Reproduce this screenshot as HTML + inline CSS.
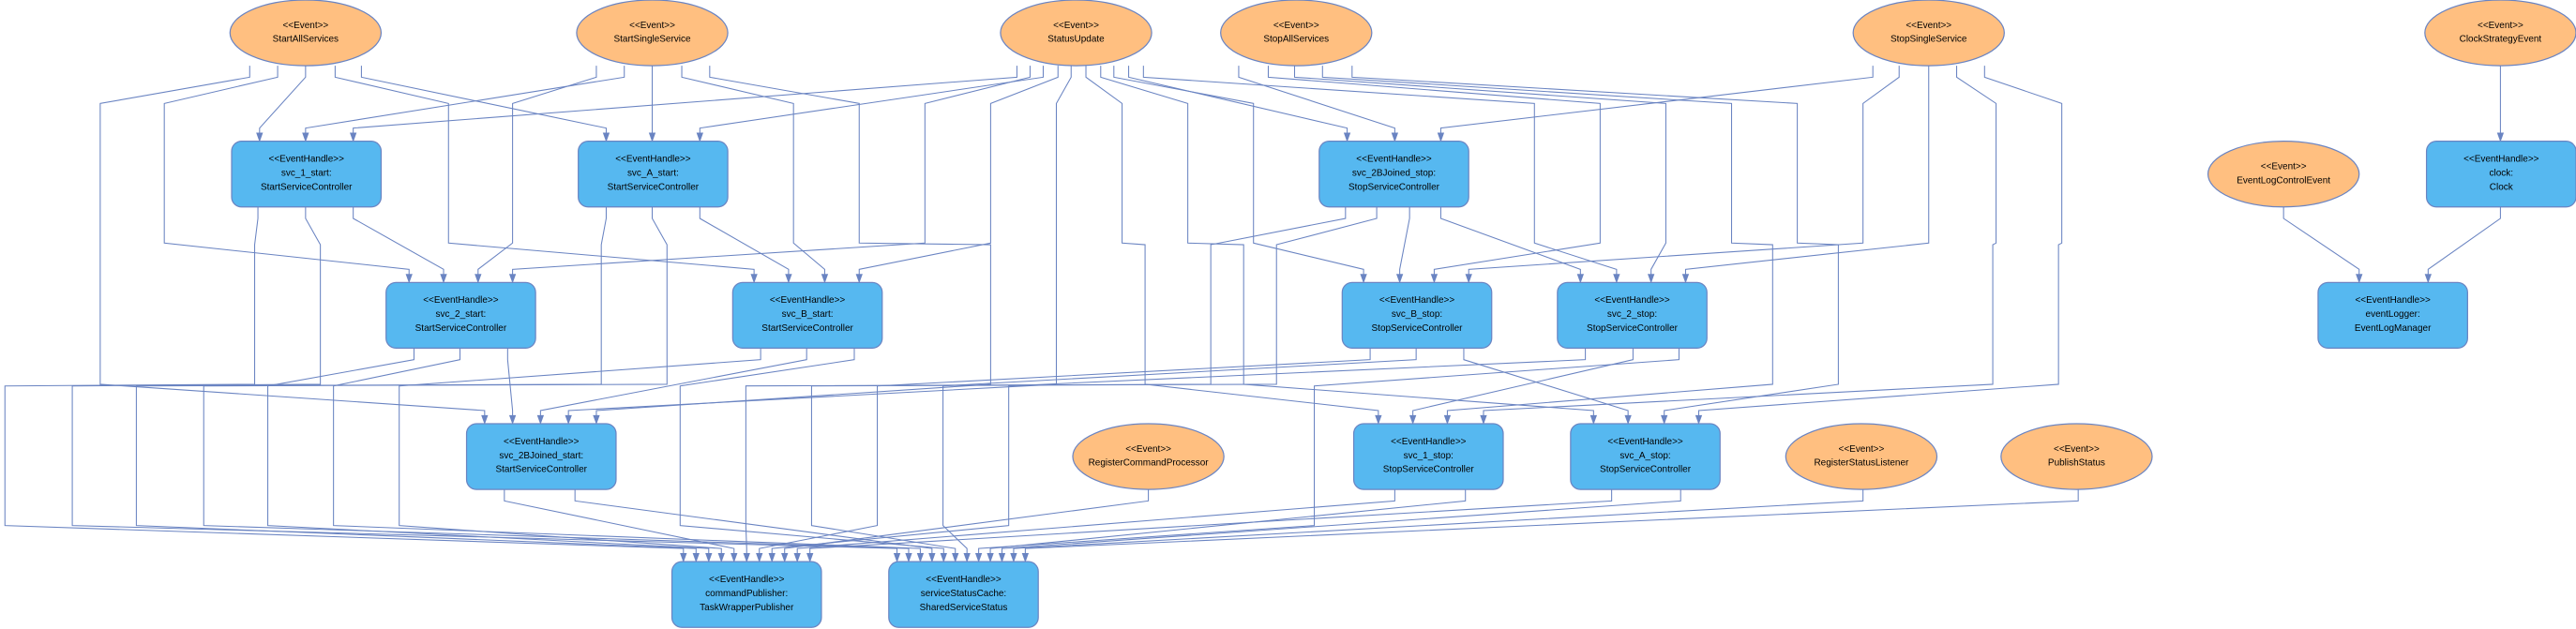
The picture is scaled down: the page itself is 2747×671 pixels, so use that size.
<!DOCTYPE html>
<html><head><meta charset="utf-8"><style>
html,body{margin:0;padding:0;background:#fff;}
svg{display:block;}
text{font-family:"Liberation Sans",Arial,sans-serif;font-size:5.7px;fill:#000;text-anchor:middle;}
</style></head><body>
<svg id="s" width="2747" height="671" viewBox="0 0 1568 383" preserveAspectRatio="none" xmlns="http://www.w3.org/2000/svg">
<g id="edges" fill="none" stroke="#6a84c2" stroke-width="0.6"></g>
<g id="arrows" fill="#6a84c2" stroke="#6a84c2" stroke-width="0.4"></g>
<g stroke="#6a84c2" stroke-width="0.7">
<ellipse cx="186" cy="20" rx="46" ry="20" fill="#ffbf80"/>
<ellipse cx="397" cy="20" rx="46" ry="20" fill="#ffbf80"/>
<ellipse cx="655" cy="20" rx="46" ry="20" fill="#ffbf80"/>
<ellipse cx="789" cy="20" rx="46" ry="20" fill="#ffbf80"/>
<ellipse cx="1174" cy="20" rx="46" ry="20" fill="#ffbf80"/>
<ellipse cx="1522" cy="20" rx="46" ry="20" fill="#ffbf80"/>
<ellipse cx="1390" cy="106" rx="46" ry="20" fill="#ffbf80"/>
<ellipse cx="699" cy="278" rx="46" ry="20" fill="#ffbf80"/>
<ellipse cx="1133" cy="278" rx="46" ry="20" fill="#ffbf80"/>
<ellipse cx="1264" cy="278" rx="46" ry="20" fill="#ffbf80"/>
<rect x="141" y="86" width="91" height="40" rx="6" fill="#56b8f0"/>
<rect x="352" y="86" width="91" height="40" rx="6" fill="#56b8f0"/>
<rect x="803" y="86" width="91" height="40" rx="6" fill="#56b8f0"/>
<rect x="1477" y="86" width="91" height="40" rx="6" fill="#56b8f0"/>
<rect x="235" y="172" width="91" height="40" rx="6" fill="#56b8f0"/>
<rect x="446" y="172" width="91" height="40" rx="6" fill="#56b8f0"/>
<rect x="817" y="172" width="91" height="40" rx="6" fill="#56b8f0"/>
<rect x="948" y="172" width="91" height="40" rx="6" fill="#56b8f0"/>
<rect x="1411" y="172" width="91" height="40" rx="6" fill="#56b8f0"/>
<rect x="284" y="258" width="91" height="40" rx="6" fill="#56b8f0"/>
<rect x="824" y="258" width="91" height="40" rx="6" fill="#56b8f0"/>
<rect x="956" y="258" width="91" height="40" rx="6" fill="#56b8f0"/>
<rect x="409" y="342" width="91" height="40" rx="6" fill="#56b8f0"/>
<rect x="541" y="342" width="91" height="40" rx="6" fill="#56b8f0"/>
</g>
<g>
<text x="186" y="17">&lt;&lt;Event&gt;&gt;</text><text x="186" y="25.5">StartAllServices</text>
<text x="397" y="17">&lt;&lt;Event&gt;&gt;</text><text x="397" y="25.5">StartSingleService</text>
<text x="655" y="17">&lt;&lt;Event&gt;&gt;</text><text x="655" y="25.5">StatusUpdate</text>
<text x="789" y="17">&lt;&lt;Event&gt;&gt;</text><text x="789" y="25.5">StopAllServices</text>
<text x="1174" y="17">&lt;&lt;Event&gt;&gt;</text><text x="1174" y="25.5">StopSingleService</text>
<text x="1522" y="17">&lt;&lt;Event&gt;&gt;</text><text x="1522" y="25.5">ClockStrategyEvent</text>
<text x="1390" y="103">&lt;&lt;Event&gt;&gt;</text><text x="1390" y="111.5">EventLogControlEvent</text>
<text x="699" y="275">&lt;&lt;Event&gt;&gt;</text><text x="699" y="283.5">RegisterCommandProcessor</text>
<text x="1133" y="275">&lt;&lt;Event&gt;&gt;</text><text x="1133" y="283.5">RegisterStatusListener</text>
<text x="1264" y="275">&lt;&lt;Event&gt;&gt;</text><text x="1264" y="283.5">PublishStatus</text>

<text x="186.5" y="98.5">&lt;&lt;EventHandle&gt;&gt;</text><text x="186.5" y="107">svc_1_start:</text><text x="186.5" y="115.5">StartServiceController</text>
<text x="397.5" y="98.5">&lt;&lt;EventHandle&gt;&gt;</text><text x="397.5" y="107">svc_A_start:</text><text x="397.5" y="115.5">StartServiceController</text>
<text x="848.5" y="98.5">&lt;&lt;EventHandle&gt;&gt;</text><text x="848.5" y="107">svc_2BJoined_stop:</text><text x="848.5" y="115.5">StopServiceController</text>
<text x="1522.5" y="98.5">&lt;&lt;EventHandle&gt;&gt;</text><text x="1522.5" y="107">clock:</text><text x="1522.5" y="115.5">Clock</text>
<text x="280.5" y="184.5">&lt;&lt;EventHandle&gt;&gt;</text><text x="280.5" y="193">svc_2_start:</text><text x="280.5" y="201.5">StartServiceController</text>
<text x="491.5" y="184.5">&lt;&lt;EventHandle&gt;&gt;</text><text x="491.5" y="193">svc_B_start:</text><text x="491.5" y="201.5">StartServiceController</text>
<text x="862.5" y="184.5">&lt;&lt;EventHandle&gt;&gt;</text><text x="862.5" y="193">svc_B_stop:</text><text x="862.5" y="201.5">StopServiceController</text>
<text x="993.5" y="184.5">&lt;&lt;EventHandle&gt;&gt;</text><text x="993.5" y="193">svc_2_stop:</text><text x="993.5" y="201.5">StopServiceController</text>
<text x="1456.5" y="184.5">&lt;&lt;EventHandle&gt;&gt;</text><text x="1456.5" y="193">eventLogger:</text><text x="1456.5" y="201.5">EventLogManager</text>
<text x="329.5" y="270.5">&lt;&lt;EventHandle&gt;&gt;</text><text x="329.5" y="279">svc_2BJoined_start:</text><text x="329.5" y="287.5">StartServiceController</text>
<text x="869.5" y="270.5">&lt;&lt;EventHandle&gt;&gt;</text><text x="869.5" y="279">svc_1_stop:</text><text x="869.5" y="287.5">StopServiceController</text>
<text x="1001.5" y="270.5">&lt;&lt;EventHandle&gt;&gt;</text><text x="1001.5" y="279">svc_A_stop:</text><text x="1001.5" y="287.5">StopServiceController</text>
<text x="454.5" y="354.5">&lt;&lt;EventHandle&gt;&gt;</text><text x="454.5" y="363">commandPublisher:</text><text x="454.5" y="371.5">TaskWrapperPublisher</text>
<text x="586.5" y="354.5">&lt;&lt;EventHandle&gt;&gt;</text><text x="586.5" y="363">serviceStatusCache:</text><text x="586.5" y="371.5">SharedServiceStatus</text>
</g>
</svg>
<script>
(function(){
var T=[0,86,172,258,342],B=[40,126,212,298,382];
var C=function(i){return 416+i*7.7;}, S=function(i){return 546+i*7.1;};
var E=[
[186,0,[],158,1],[380,0,[],186,1],[619,0,[],215,1],
[220,0,[],369,1],[397,0,[],397,1],[635,0,[],426,1],
[687,0,[],820,1],[754,0,[],849,1],[1140,0,[],877,1],
[1522,0,[],1522,1],
[215,1,[],270,2],[426,1,[],480,2],[858,1,[],852,2],[877,1,[],962,2],
[1390,1,[],1436,2],[1522,1,[],1478,2],
[169,0,[100],249,2],[204,0,[273],459,2],[363,0,[312],291,2],[415,0,[483],502,2],
[627,0,[563],312,2],[644,0,[603],523,2],[678,0,[763],830,2],[696,0,[934],984,2],
[652,0,[643,643],346,3],[432,0,[523,603],363,3],[152,0,[61,61],295,3],
[661,0,[683,697],839,3],[670,0,[723,757],970,3],
[772,0,[974],873,2],[788,0,[1014],1005,2],[805,0,[1054,1079],881,3],[823,0,[1094,1119],1013,3],
[1156,0,[1134],894,2],[1174,0,[1174],1026,2],[1191,0,[1215,1213],903,3],[1208,0,[1255,1253],1034,3],
[309,2,[],312,3],[491,2,[],329,3],[891,2,[],991,3],[994,2,[],860,3],
[157,1,[155,3],C(0),4],[369,1,[366,83],C(1),4],[252,2,[163],C(2),4],[463,2,[243],C(3),4],
[307,3,[],C(4),4],[819,1,[737,454],C(5),4],[834,2,[534],C(6),4],[965,2,[614],C(7),4],
[699,3,[],C(8),4],[849,3,[],C(9),4],[981,3,[],C(10),4],
[186,1,[195,44],S(0),4],[397,1,[406,124],S(1),4],[280,2,[203],S(2),4],[350,3,[],S(3),4],
[520,2,[414],S(4),4],[838,1,[777,494],S(5),4],[862,2,[574],S(6),4],[1022,2,[800],S(7),4],
[892,3,[],S(8),4],[1023,3,[],S(9),4],[1134,3,[],S(10),4],[1265,3,[],S(11),4]
];
var ns="http://www.w3.org/2000/svg",ge=document.getElementById("edges"),ga=document.getElementById("arrows");
E.forEach(function(e){
 var sx=e[0],sr=e[1],L=e[2],tx=e[3],tr=e[4];
 var p=[[sx,B[sr]],[sx,B[sr]+7]];
 L.forEach(function(l,i){var r=sr+1+i;p.push([l,T[r]-23],[l,B[r]+22]);});
 p.push([tx,T[tr]-8],[tx,T[tr]-4]);
 var pl=document.createElementNS(ns,"polyline");
 pl.setAttribute("points",p.map(function(q){return q[0]+","+q[1];}).join(" "));
 ge.appendChild(pl);
 var a=document.createElementNS(ns,"polygon");
 var y=T[tr];
 a.setAttribute("points",(tx-1.8)+","+(y-5)+" "+(tx+1.8)+","+(y-5)+" "+tx+","+y);
 ga.appendChild(a);
});
})();
</script>
</body></html>
